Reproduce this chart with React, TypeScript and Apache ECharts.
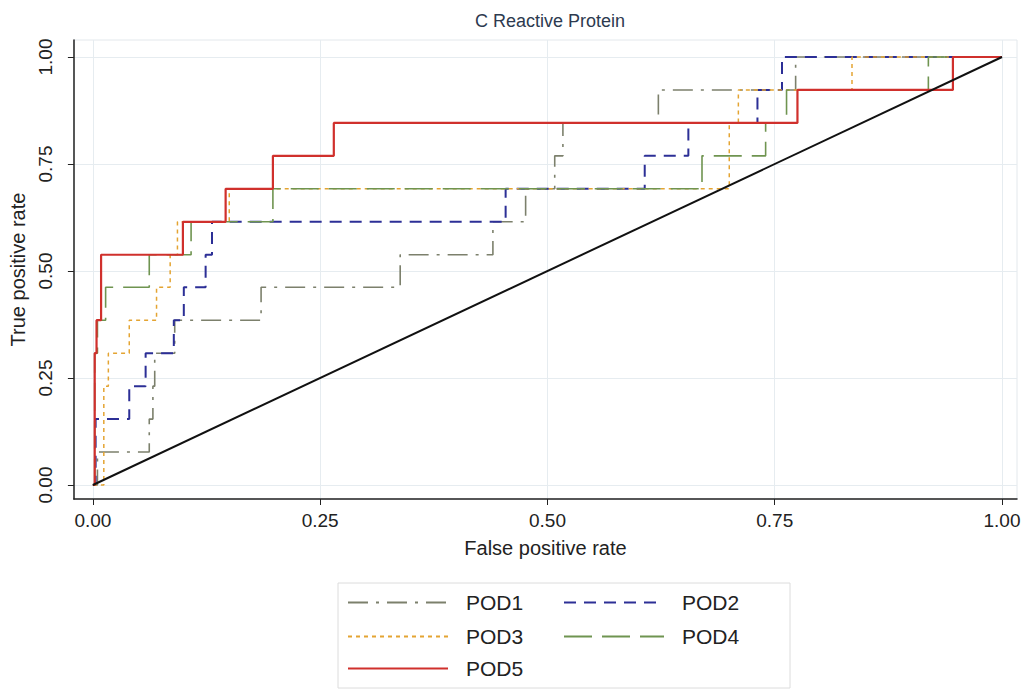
import React, { useEffect, useRef } from "react";
import * as echarts from "echarts";

// ROC step corners [false positive rate, true positive rate]
const pod1 = [[0,0],[0.005,0.077],[0.062,0.154],[0.066,0.231],[0.068,0.308],[0.09,0.385],[0.185,0.462],[0.338,0.538],[0.44,0.615],[0.476,0.692],[0.508,0.769],[0.517,0.846],[0.622,0.923],[0.773,1],[1,1]];
const pod2 = [[0,0],[0.003,0.154],[0.04,0.231],[0.058,0.308],[0.089,0.385],[0.1,0.462],[0.124,0.538],[0.131,0.615],[0.454,0.692],[0.607,0.769],[0.655,0.846],[0.731,0.923],[0.758,1],[1,1]];
const pod3 = [[0,0],[0.012,0.231],[0.017,0.308],[0.04,0.385],[0.07,0.462],[0.085,0.538],[0.093,0.615],[0.15,0.692],[0.70,0.846],[0.71,0.923],[0.835,1],[1,1]];
const pod4 = [[0,0],[0.002,0.308],[0.005,0.385],[0.014,0.462],[0.062,0.538],[0.108,0.615],[0.198,0.692],[0.67,0.769],[0.74,0.846],[0.763,0.923],[0.919,1],[1,1]];
const pod5 = [[0,0],[0.002,0.308],[0.004,0.385],[0.009,0.538],[0.099,0.615],[0.146,0.692],[0.198,0.769],[0.265,0.846],[0.775,0.923],[0.946,1],[1,1]];
const reference = [[0,0],[1,1]];
const ticks = [0, 0.25, 0.5, 0.75, 1];
const names = ["POD1", "POD2", "POD3", "POD4", "POD5"];

const FONT = "Liberation Sans, Arial, sans-serif";

export default function App() {
  const ref = useRef<HTMLDivElement>(null);
  useEffect(() => {
    const chart = echarts.init(ref.current!, null, { renderer: "svg" });
    const styles = [
      { color: "#7c806c", width: 1.6, type: [20, 8, 3, 8] },
      { color: "#2c2f96", width: 2, type: [12, 8] },
      { color: "#e4a432", width: 1.5, type: [4, 4] },
      { color: "#6f9450", width: 1.6, type: [28, 10] },
      { color: "#d0302c", width: 2.2, type: "solid" },
    ];
    const datas = [pod1, pod2, pod3, pod4, pod5];
    const series: any[] = datas.map((d, i) => ({
      name: names[i],
      type: "line",
      step: "end",
      data: d,
      symbol: "none",
      lineStyle: styles[i],
      itemStyle: { color: styles[i].color },
      silent: true,
    }));
    series.push({
      name: "ref",
      type: "line",
      data: reference,
      symbol: "none",
      lineStyle: { color: "#111", width: 2 },
      silent: true,
    });
    const legendPos = [
      { left: 347, top: 592 },
      { left: 563, top: 592 },
      { left: 347, top: 626 },
      { left: 563, top: 626 },
      { left: 347, top: 658 },
    ];
    const legends = names.map((n, i) => ({
      data: [n],
      left: legendPos[i].left,
      top: legendPos[i].top,
      padding: 0,
      itemWidth: 100,
      itemHeight: 14,
      selectedMode: false,
      itemStyle: { opacity: 0 },
      textStyle: { fontSize: 21, color: "#222", fontFamily: FONT, padding: [0, 0, 0, 13] },
    }));
    chart.setOption({
      animation: false,
      backgroundColor: "#fff",
      title: {
        text: "C Reactive Protein",
        left: 545,
        textAlign: "center",
        top: 7,
        textStyle: { fontSize: 18, fontWeight: "normal", color: "#2d3a4f", fontFamily: FONT },
      },
      grid: {
        left: 73,
        top: 40,
        right: 9,
        bottom: 191,
        show: true,
        borderColor: "#e3e8ec",
        borderWidth: 1,
      },
      legend: legends,
      xAxis: {
        type: "value",
        min: -0.0209,
        max: 1.0165,
        name: "False positive rate",
        nameLocation: "middle",
        nameGap: 39,
        nameTextStyle: { fontSize: 20, color: "#222", fontFamily: FONT },
        axisLine: { show: true, onZero: false, lineStyle: { color: "#222", width: 1.5 } },
        axisTick: { show: true, customValues: ticks, length: 6, lineStyle: { color: "#222" } },
        axisLabel: {
          customValues: ticks,
          formatter: (v: number) => v.toFixed(2),
          fontSize: 19,
          color: "#222",
          fontFamily: FONT,
          margin: 12,
        },
        splitLine: { show: true, lineStyle: { color: "#e6ecf0", width: 1 } },
      },
      yAxis: {
        type: "value",
        min: -0.0327,
        max: 1.0397,
        name: "True positive rate",
        nameLocation: "middle",
        nameGap: 44,
        nameTextStyle: { fontSize: 20, color: "#222", fontFamily: FONT },
        axisLine: { show: true, onZero: false, lineStyle: { color: "#222", width: 1.5 } },
        axisTick: { show: true, customValues: ticks, length: 6, lineStyle: { color: "#222" } },
        axisLabel: {
          customValues: ticks,
          formatter: (v: number) => v.toFixed(2),
          rotate: 90,
          fontSize: 19,
          color: "#222",
          fontFamily: FONT,
          margin: 19,
        },
        splitLine: { show: true, lineStyle: { color: "#e6ecf0", width: 1 } },
      },
      graphic: [
        {
          type: "rect",
          shape: { x: 338, y: 583, width: 452, height: 105 },
          style: { fill: "none", stroke: "#dcdcdc", lineWidth: 1 },
          silent: true,
        },
      ],
      series,
    });
    return () => chart.dispose();
  }, []);
  return (
    <div
      ref={ref}
      style={{ position: "fixed", left: 0, top: 0, width: 1026, height: 690 }}
    />
  );
}
